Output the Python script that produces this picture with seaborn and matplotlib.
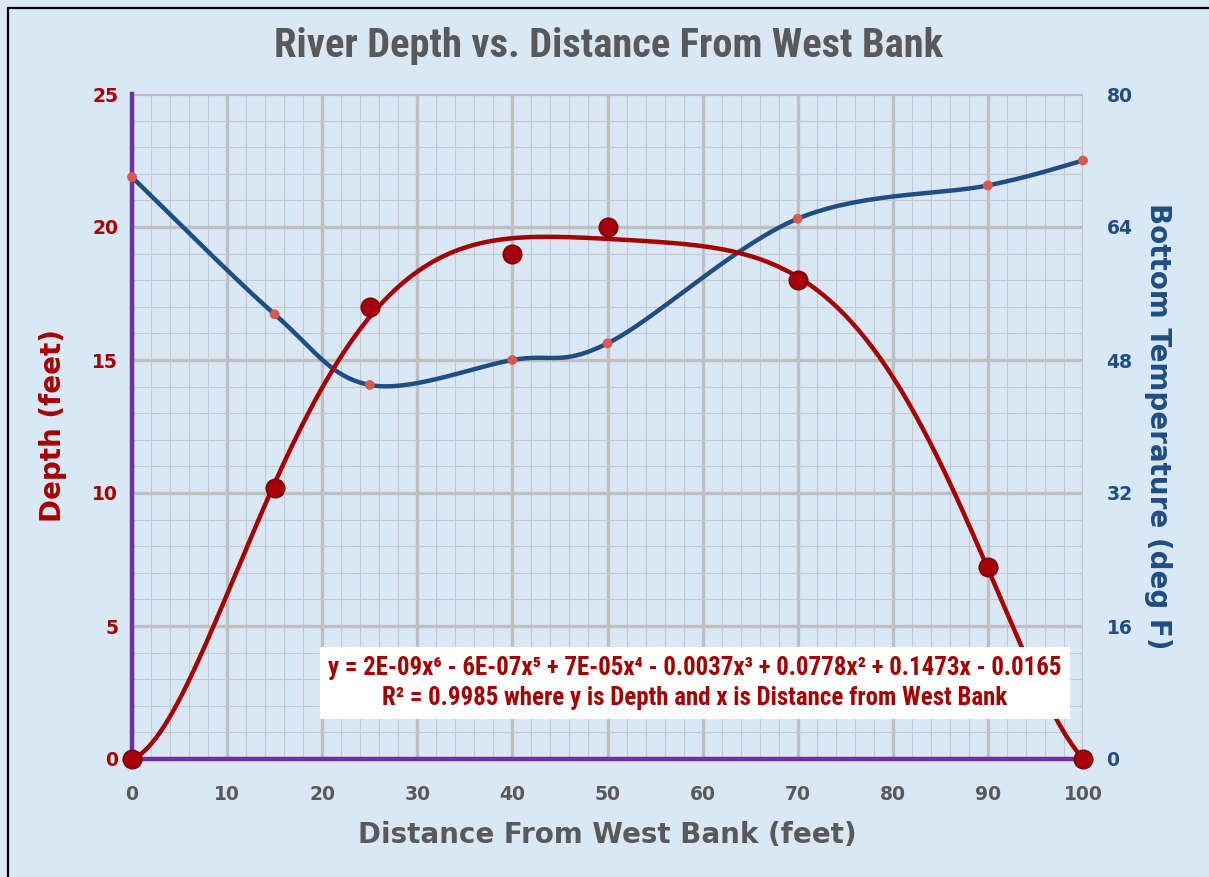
import numpy as np
import matplotlib
matplotlib.use("Agg")
import matplotlib.pyplot as plt
from matplotlib.lines import Line2D
from matplotlib.ticker import MultipleLocator, FixedLocator
from matplotlib import font_manager as fm
import seaborn as sns
import pandas as pd

# Survey measurements across the river
distance = [0, 15, 25, 40, 50, 70, 90, 100]
depth = [0, 10.2, 17, 19, 20, 18, 7.2, 0]
temperature = [70, 53.5, 45, 48, 50, 65, 69, 72]

x_ticks = [0, 10, 20, 30, 40, 50, 60, 70, 80, 90, 100]
depth_ticks = [0, 5, 10, 15, 20, 25]
temp_ticks = [0, 16, 32, 48, 64, 80]

title = "River Depth vs. Distance From West Bank"
x_label = "Distance From West Bank (feet)"
depth_label = "Depth (feet)"
temp_label = "Bottom Temperature (deg F)"
fit_line1 = "y = 2E-09x\u2076 - 6E-07x\u2075 + 7E-05x\u2074 - 0.0037x\u00b3 + 0.0778x\u00b2 + 0.1473x - 0.0165"
fit_line2 = "R\u00b2 = 0.9985 where y is Depth and x is Distance from West Bank"

df = pd.DataFrame({"distance": distance, "depth": depth, "temperature": temperature})

sns.set_theme(style="white")
plt.rcParams["font.family"] = ["DejaVu Sans"]

BG = "#dae8f6"
PURPLE = "#7030a0"
DEPTH_RED = "#a50000"
TEMP_BLUE = "#1f4e84"
DOT_RED = "#d65a50"
GRID = "#bfbfbf"
GRAY_TEXT = "#595959"


def condensed_font():
    names = {f.name for f in fm.fontManager.ttflist}
    for fam in ["Liberation Sans Narrow", "Roboto Condensed", "Noto Sans Condensed",
                "Open Sans Condensed", "DejaVu Sans Condensed"]:
        if fam in names:
            return dict(family=[fam, "DejaVu Sans"])
    path = fm.findfont(fm.FontProperties(family="DejaVu Sans", weight="bold",
                                         stretch="condensed"))
    if "Condensed" in path:
        return dict(family=["DejaVu Sans"], stretch="condensed")
    return dict(family=["DejaVu Sans"])


NARROW = condensed_font()

fig = plt.figure(figsize=(12.09, 8.77), dpi=100)
fig.patch.set_facecolor(BG)

W, H = 1209, 877
left, right, top, bottom = 132, 1083, 94, 759
ax = fig.add_axes([left / W, 1 - bottom / H, (right - left) / W, (bottom - top) / H])
ax2 = ax.twinx()

# temperature axes sits underneath and carries the grid and the purple spines
ax.set_zorder(ax2.get_zorder() + 1)
ax.patch.set_visible(False)
ax2.patch.set_visible(False)

ax.set_xlim(0, 100)
ax.set_ylim(0, 25)
ax2.set_ylim(0, 80)

ax2.xaxis.set_visible(True)
ax2.xaxis.set_major_locator(FixedLocator(x_ticks))
ax2.xaxis.set_minor_locator(MultipleLocator(2))
ax2.yaxis.set_major_locator(FixedLocator(temp_ticks))
ax2.yaxis.set_minor_locator(MultipleLocator(3.2))
ax2.grid(which="major", color=GRID, linewidth=2.4, zorder=0)
ax2.grid(which="minor", color="#c6c8ce", linewidth=0.85, zorder=0)
ax2.set_axisbelow(True)
ax2.tick_params(axis="x", which="both", labelbottom=False, labeltop=False,
                length=0)

for s in ["top", "right", "left", "bottom"]:
    ax.spines[s].set_visible(False)
for s in ["top", "right"]:
    ax2.spines[s].set_visible(False)
for s in ["left", "bottom"]:
    ax2.spines[s].set_visible(True)
    ax2.spines[s].set_color(PURPLE)
    ax2.spines[s].set_linewidth(3.2)
    ax2.spines[s].set_zorder(1.5)


def catmull_rom(xs, ys, n=60):
    pts = np.column_stack([xs, ys]).astype(float)
    ext = np.vstack([pts[0], pts, pts[-1]])
    t = np.linspace(0, 1, n, endpoint=False)[:, None]
    h00 = 2 * t**3 - 3 * t**2 + 1
    h10 = t**3 - 2 * t**2 + t
    h01 = -2 * t**3 + 3 * t**2
    h11 = t**3 - t**2
    segs = []
    for i in range(len(pts) - 1):
        p0, p1, p2, p3 = ext[i], ext[i + 1], ext[i + 2], ext[i + 3]
        m1 = (p2 - p0) / 2
        m2 = (p3 - p1) / 2
        segs.append(h00 * p1 + h10 * m1 + h01 * p2 + h11 * m2)
    segs.append(pts[-1][None, :])
    out = np.vstack(segs)
    return out[:, 0], out[:, 1]


# temperature: smoothed line through the readings
sx, sy = catmull_rom(df["distance"], df["temperature"])
sns.lineplot(x=sx, y=sy, ax=ax2, color=TEMP_BLUE, linewidth=3.2, sort=False,
             zorder=3, clip_on=False)
sns.scatterplot(data=df, x="distance", y="temperature", ax=ax2, color=DOT_RED,
                s=50, edgecolor="none", zorder=4, clip_on=False)

# depth: sixth-order polynomial trend through the soundings
coef = np.polyfit(df["distance"], df["depth"], 6)
fx = np.linspace(0, 100, 500)
fy = np.polyval(coef, fx)
sns.lineplot(x=fx, y=fy, ax=ax, color=DEPTH_RED, linewidth=3.2, zorder=3,
             clip_on=False)
sns.scatterplot(data=df, x="distance", y="depth", ax=ax, color="#a8000b",
                s=175, edgecolor="#7a0000", linewidth=1.2, zorder=4, clip_on=False)

# ticks and labels
ax.set_xticks(x_ticks)
ax.set_yticks(depth_ticks)
ax2.set_yticks(temp_ticks)
ax.tick_params(axis="both", which="both", length=0)
ax2.tick_params(axis="y", which="both", length=0)
ax.tick_params(axis="x", pad=19, labelsize=13.5, labelcolor=GRAY_TEXT)
ax.tick_params(axis="y", pad=10, labelsize=13.5, labelcolor=DEPTH_RED)
ax2.tick_params(axis="y", pad=17, labelsize=13.5, labelcolor=TEMP_BLUE)
for lab in ax.get_xticklabels() + ax.get_yticklabels() + ax2.get_yticklabels():
    lab.set_fontweight("bold")

ax.set_xlabel(x_label, fontsize=20, fontweight="bold", color=GRAY_TEXT, va="center")
ax.xaxis.set_label_coords(0.5, -0.114)
ax.set_ylabel(depth_label, fontsize=20, fontweight="bold", color=DEPTH_RED, va="center")
ax.yaxis.set_label_coords(-0.083, 0.502)
ax2.set_ylabel(temp_label, fontsize=20, fontweight="bold", color=TEMP_BLUE,
               rotation=270, va="center")
ax2.yaxis.set_label_coords(1.079, 0.5)

title_txt = fig.text(609 / W, 1 - 46 / H, title, ha="center", va="center",
                     fontsize=21, fontweight="bold", color=GRAY_TEXT, **NARROW)

note_txt = fig.text(695 / W, 1 - 683 / H, fit_line1 + "\n" + fit_line2,
                    ha="center", va="center", fontsize=15, fontweight="bold",
                    color=DEPTH_RED, linespacing=1.3, zorder=10, **NARROW)

# size the condensed captions to their spans
renderer = fig.canvas.get_renderer()


def fit_width(txt, target_px, probe=None):
    if probe is not None:
        full = txt.get_text()
        txt.set_text(probe)
    w = txt.get_window_extent(renderer).width
    txt.set_fontsize(txt.get_fontsize() * target_px / w)
    if probe is not None:
        txt.set_text(full)


fit_width(title_txt, 668)
fit_width(note_txt, 735, probe=fit_line1)
note_txt.set_bbox(dict(boxstyle="square,pad=0.35", facecolor="white", edgecolor="none"))

# frame around the figure
fig.add_artist(Line2D([8 / W, 8 / W], [0, 1 - 8 / H], color="black", linewidth=1.6))
fig.add_artist(Line2D([8 / W, 1], [1 - 8 / H, 1 - 8 / H], color="black", linewidth=1.6))

fig.savefig("out.png", dpi=100, facecolor=fig.get_facecolor())
